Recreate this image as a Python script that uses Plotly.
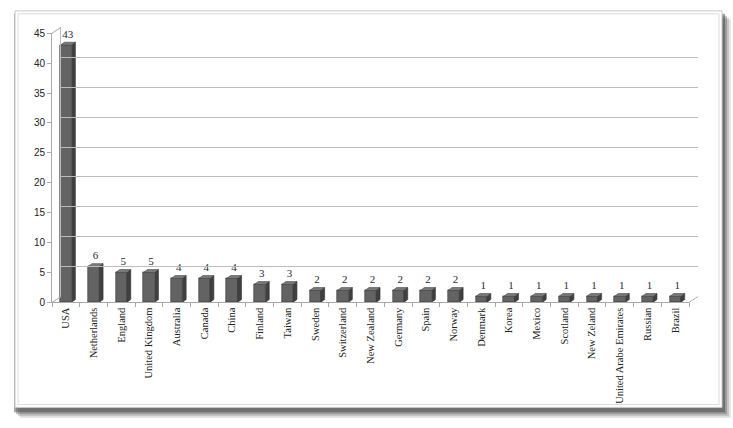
"""Country counts as an Excel-style 3D column chart."""

import plotly.graph_objects as go

countries = [
    "USA", "Netherlands", "England", "United Kingdom", "Australia", "Canada",
    "China", "Finland", "Taiwan", "Sweden", "Switzerland", "New Zealand",
    "Germany", "Spain", "Norway", "Denmark", "Korea", "Mexico", "Scotland",
    "New Zeland", "United Arabe Emirates", "Russian", "Brazil",
]
counts = [43, 6, 5, 5, 4, 4, 4, 3, 3, 2, 2, 2, 2, 2, 2, 1, 1, 1, 1, 1, 1, 1, 1]
y_ticks = [0, 5, 10, 15, 20, 25, 30, 35, 40, 45]

W, H = 733, 428
SERIF = "Liberation Serif"

# pixel geometry of the front plane and the back wall
fx0, fx1, fy0, fy1 = 52, 689, 305, 28
dxw, dyw = 9, 6


def px(x):
    return x / W


def py(y):
    return 1 - y / H


xs = list(range(len(countries)))
half = 0.2                      # half width of a bar's front face
sx = 4 / ((fx1 - fx0) / len(countries))   # side depth in x units
sy = 3 / ((fy0 - fy1) / 45)               # top rise in y units

fig = go.Figure()

# front faces
fig.add_trace(go.Bar(
    x=xs, y=counts, width=2 * half,
    marker=dict(color="#636363", line=dict(color="#3a3a3a", width=0.6)),
    showlegend=False, hoverinfo="skip",
))

# side faces and tops
side_x, side_y, top_x, top_y = [], [], [], []
for c, v in zip(xs, counts):
    r = c + half
    side_x += [r, r + sx, r + sx, r, r, None]
    side_y += [0, sy, v + sy, v, 0, None]
    top_x += [c - half, c - half + sx, r + sx, r, c - half, None]
    top_y += [v, v + sy, v + sy, v, v, None]
fig.add_trace(go.Scatter(
    x=side_x, y=side_y, mode="lines", fill="toself",
    fillcolor="#404040", line=dict(color="#333333", width=0.6),
    showlegend=False, hoverinfo="skip",
))
fig.add_trace(go.Scatter(
    x=top_x, y=top_y, mode="lines", fill="toself",
    fillcolor="#7a7a7a", line=dict(color="#444444", width=0.6),
    showlegend=False, hoverinfo="skip",
))

# value labels
fig.add_trace(go.Scatter(
    x=[c + sx / 2 for c in xs], y=[v + sy + 0.3 for v in counts],
    mode="text", text=[str(v) for v in counts], textposition="top center",
    textfont=dict(family=SERIF, size=11, color="#1e2a3a"),
    cliponaxis=False, showlegend=False, hoverinfo="skip",
))

# back wall gridlines on an offset axis pair
fig.add_trace(go.Scatter(x=[None], y=[None], xaxis="x2", yaxis="y2", showlegend=False))

# frame with drop shadow
shapes = []
for op, off in [(0.12, 9), (0.2, 7), (0.3, 5), (0.45, 3)]:
    shapes.append(dict(
        type="rect", xref="paper", yref="paper", layer="below",
        x0=px(15 + off - 4), x1=px(722 + off), y0=py(413 + off + 2), y1=py(5 + off),
        fillcolor=f"rgba(60,60,60,{op})", line=dict(width=0),
    ))
shapes.append(dict(
    type="rect", xref="paper", yref="paper", layer="below",
    x0=px(15), x1=px(722), y0=py(413), y1=py(5),
    fillcolor="white", line=dict(color="#c8c8c8", width=1),
))
shapes.append(dict(
    type="rect", xref="paper", yref="paper", layer="below",
    x0=px(18), x1=px(719), y0=py(410), y1=py(8),
    fillcolor="rgba(0,0,0,0)", line=dict(color="#dcdcdc", width=1),
))
# 3D connectors between front plane and back wall
for (ax, ay) in [(fx0, fy0), (fx0, fy1), (fx1, fy0)]:
    shapes.append(dict(
        type="line", xref="paper", yref="paper",
        x0=px(ax), y0=py(ay), x1=px(ax + dxw), y1=py(ay - dyw),
        line=dict(color="#a8a8a8", width=1),
    ))

fig.update_layout(
    width=W, height=H, autosize=False,
    margin=dict(l=0, r=0, t=0, b=0),
    paper_bgcolor="white", plot_bgcolor="rgba(0,0,0,0)",
    shapes=shapes, bargap=0,
    xaxis=dict(
        domain=[px(fx0), px(fx1)], range=[-0.5, len(countries) - 0.5],
        tickvals=xs, ticktext=countries, tickangle=-90, ticks="",
        tickfont=dict(family=SERIF, size=10.5, color="#222222"),
        showline=True, linecolor="#a8a8a8", linewidth=1,
        showgrid=False, zeroline=False,
        minor=dict(tickvals=[c - 0.5 for c in xs] + [len(xs) - 0.5],
                   ticks="outside", ticklen=4, tickcolor="#a8a8a8"),
    ),
    yaxis=dict(
        domain=[py(fy0), py(fy1)], range=[0, 45],
        tickvals=y_ticks, ticks="outside", ticklen=4, tickcolor="#a8a8a8",
        tickfont=dict(family="Liberation Sans", size=10, color="#222222"),
        showline=True, linecolor="#a8a8a8", linewidth=1,
        showgrid=False, zeroline=False,
    ),
    xaxis2=dict(
        domain=[px(fx0 + dxw), px(fx1 + dxw)], range=[-0.5, len(countries) - 0.5],
        anchor="y2", showticklabels=False, showgrid=False, zeroline=False,
    ),
    yaxis2=dict(
        domain=[py(fy0 - dyw), py(fy1 - dyw)], range=[0, 45],
        anchor="x2", tickvals=y_ticks, showticklabels=False,
        showgrid=True, gridcolor="#bcbcbc", gridwidth=1.2,
        showline=True, linecolor="#bcbcbc", zeroline=False,
    ),
)

# drop the browser's default page margin so the figure fills the window exactly
page_css = (
    "document.documentElement.style.margin='0';"
    "document.documentElement.style.overflow='hidden';"
    "document.body.style.margin='0';"
    "document.body.style.overflow='hidden';"
    "document.body.style.height='428px';"
)
fig.write_html("out.html", config={"displayModeBar": False}, post_script=page_css)
